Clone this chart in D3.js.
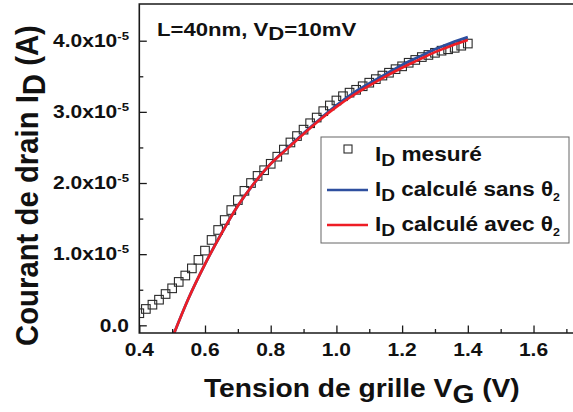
<!DOCTYPE html>
<html><head><meta charset="utf-8">
<script src="https://cdn.jsdelivr.net/npm/d3@7"></script>
<style>
html,body{margin:0;padding:0;background:#fff;}
svg{display:block;font-family:"Liberation Sans",Arial,sans-serif;font-weight:bold;}
</style></head>
<body>
<svg id="c" width="573" height="412"></svg>
<script>
// ---- data (current in units of 1e-5 A) ----
const vgMesure = [0.40,0.42,0.44,0.46,0.48,0.50,0.52,0.54,0.56,0.58,0.60,0.62,0.64,0.66,0.68,0.70,0.72,0.74,0.76,0.78,0.80,0.82,0.84,0.86,0.88,0.90,0.92,0.94,0.96,0.98,1.00,1.02,1.04,1.06,1.08,1.10,1.12,1.14,1.16,1.18,1.20,1.22,1.24,1.26,1.28,1.30,1.32,1.34,1.36,1.38,1.40];
const idMesure = [0.17,0.23,0.29,0.36,0.44,0.52,0.61,0.70,0.80,0.92,1.05,1.20,1.34,1.48,1.62,1.76,1.89,2.00,2.10,2.18,2.27,2.37,2.47,2.57,2.66,2.75,2.84,2.92,3.01,3.09,3.16,3.22,3.27,3.31,3.36,3.41,3.46,3.51,3.55,3.60,3.64,3.69,3.73,3.77,3.80,3.83,3.86,3.88,3.90,3.93,3.96];
const vgCalc = [0.50,0.55,0.60,0.65,0.70,0.75,0.80,0.85,0.90,0.95,1.00,1.05,1.10,1.15,1.20,1.25,1.30,1.35,1.40];
const idSans = [-0.18,0.38,0.86,1.29,1.68,2.00,2.27,2.49,2.70,2.90,3.09,3.26,3.40,3.53,3.66,3.77,3.88,3.97,4.05];
const idAvec = [-0.18,0.38,0.86,1.29,1.68,2.00,2.27,2.48,2.69,2.89,3.07,3.23,3.37,3.50,3.62,3.73,3.84,3.93,4.01];
const xTicks = [0.4,0.6,0.8,1.0,1.2,1.4,1.6];
const xTickLabels = ["0.4","0.6","0.8","1.0","1.2","1.4","1.6"];
const yTicks = [0,1,2,3,4];
const yTickLabels = [["0.0",""],["1.0x10","-5"],["2.0x10","-5"],["3.0x10","-5"],["4.0x10","-5"]];
const xMinor = [0.5,0.7,0.9,1.1,1.3,1.5,1.7];
const yMinor = [0.5,1.5,2.5,3.5];

const svg = d3.select("#c");
const L = 139.3, R = 582.8, T = 4, B = 333;
const x = d3.scaleLinear().domain([0.4, 1.75]).range([L, R]);
const y = d3.scaleLinear().domain([-0.108, 4.516]).range([B, T]);

svg.append("defs").append("clipPath").attr("id","clip")
  .append("rect").attr("x",L).attr("y",T).attr("width",R-L).attr("height",B-T);

// measured squares
const plot = svg.append("g").attr("clip-path","url(#clip)");
plot.selectAll("rect.m").data(vgMesure).join("rect").attr("class","m")
  .attr("x",(d,i)=>x(d)-4.3).attr("y",(d,i)=>y(idMesure[i])-4.3)
  .attr("width",8.6).attr("height",8.6)
  .attr("fill","none").attr("stroke","#2a2a2a").attr("stroke-width",1.1);

const line = (arr)=>d3.line().x((d,i)=>x(vgCalc[i])).y((d,i)=>y(arr[i])).curve(d3.curveMonotoneX);
plot.append("path").attr("d",line(idSans)(idSans)).attr("fill","none").attr("stroke","#2e4f9f").attr("stroke-width",2.8);
plot.append("path").attr("d",line(idAvec)(idAvec)).attr("fill","none").attr("stroke","#ee1d25").attr("stroke-width",2.6);

// axes
const ax = "#1a1a1a";
svg.append("g").attr("transform",`translate(0,${B})`)
  .call(d3.axisBottom(x).tickValues(xTicks).tickSize(-7.5).tickFormat(""))
  .call(g=>{g.select(".domain").remove(); g.selectAll("line").attr("stroke",ax).attr("stroke-width",1.3);});
svg.append("g").attr("transform",`translate(0,${B})`)
  .call(d3.axisBottom(x).tickValues(xMinor).tickSize(-4).tickFormat(""))
  .call(g=>{g.select(".domain").remove(); g.selectAll("line").attr("stroke",ax).attr("stroke-width",1.3);});
svg.append("g").attr("transform",`translate(${L},0)`)
  .call(d3.axisLeft(y).tickValues(yTicks).tickSize(-7.5).tickFormat(""))
  .call(g=>{g.select(".domain").remove(); g.selectAll("line").attr("stroke",ax).attr("stroke-width",1.3);});
svg.append("g").attr("transform",`translate(${L},0)`)
  .call(d3.axisLeft(y).tickValues(yMinor).tickSize(-4).tickFormat(""))
  .call(g=>{g.select(".domain").remove(); g.selectAll("line").attr("stroke",ax).attr("stroke-width",1.3);});
// frame
svg.append("path").attr("d",`M${R},${T}H${L}V${B}H${R}`).attr("fill","none").attr("stroke",ax).attr("stroke-width",1.6);

// tick labels
xTicks.forEach((v,i)=>{
  svg.append("text").attr("transform",`translate(${x(v)},356) scale(1.2,1)`)
    .attr("text-anchor","middle").attr("font-size",17.5).attr("fill","#111").text(xTickLabels[i]);
});
yTicks.forEach((v,i)=>{
  const t = svg.append("text").attr("transform",`translate(129,${y(v)+6.3}) scale(1.2,1)`)
    .attr("text-anchor","end").attr("font-size",17.5).attr("fill","#111");
  t.append("tspan").text(yTickLabels[i][0]);
  if (yTickLabels[i][1]) t.append("tspan").attr("font-size",11).attr("dy",-7).text(yTickLabels[i][1]);
});

// helper to fit text to target width horizontally
function fit(g, tx, ty, target, extra){
  const w = g.node().getBBox().width;
  g.attr("transform",`translate(${tx},${ty}) ${extra||""} scale(${target/w},${extra?1.1:1})`);
}

// title
let g = svg.append("g"); let t = g.append("text").attr("font-size",18.6).attr("fill","#111");
t.append("tspan").text("L=40nm, V");
t.append("tspan").attr("dy",4).text("D");
t.append("tspan").attr("dy",-4).text("=10mV");
fit(g,157,36,200);

// x axis title
g = svg.append("g"); t = g.append("text").attr("font-size",25).attr("fill","#111");
t.append("tspan").text("Tension de grille V");
t.append("tspan").attr("dy",6).text("G");
t.append("tspan").attr("dy",-6).text(" (V)");
fit(g,204,397,316);

// y axis title
g = svg.append("g"); t = g.append("text").attr("font-size",28).attr("fill","#111");
t.append("tspan").text("Courant de drain I");
t.append("tspan").attr("dy",6).text("D");
t.append("tspan").attr("dy",-6).text(" (A)");
fit(g,38,346,321,"rotate(-90)");

// legend
svg.append("rect").attr("x",321).attr("y",137).attr("width",248).attr("height",106)
  .attr("fill","#fff").attr("stroke","#666").attr("stroke-width",1);
const legItems = [
  {type:"sq", label:"mesuré", w:107, yb:161},
  {type:"line", color:"#2e4f9f", label:"calculé sans ", w:185, yb:196},
  {type:"line", color:"#ee1d25", label:"calculé avec ", w:185, yb:231}
];
legItems.forEach(d=>{
  const cy = d.yb - 6;
  if (d.type==="sq") svg.append("rect").attr("x",344).attr("y",cy-10).attr("width",8).attr("height",8)
      .attr("fill","none").attr("stroke","#2a2a2a").attr("stroke-width",1.1);
  else svg.append("line").attr("x1",327).attr("x2",368).attr("y1",cy).attr("y2",cy)
      .attr("stroke",d.color).attr("stroke-width",2.4);
  const gg = svg.append("g"); const tt = gg.append("text").attr("font-size",20).attr("fill","#111");
  tt.append("tspan").text("I");
  tt.append("tspan").attr("dy",5).attr("font-size",17).text("D");
  tt.append("tspan").attr("dy",-5).text(" " + d.label);
  if (d.type==="line"){
    tt.append("tspan").text("θ");
    tt.append("tspan").attr("dy",5).attr("font-size",11).text("2");
  }
  fit(gg,375,d.yb,d.w);
});
</script>
</body></html>
